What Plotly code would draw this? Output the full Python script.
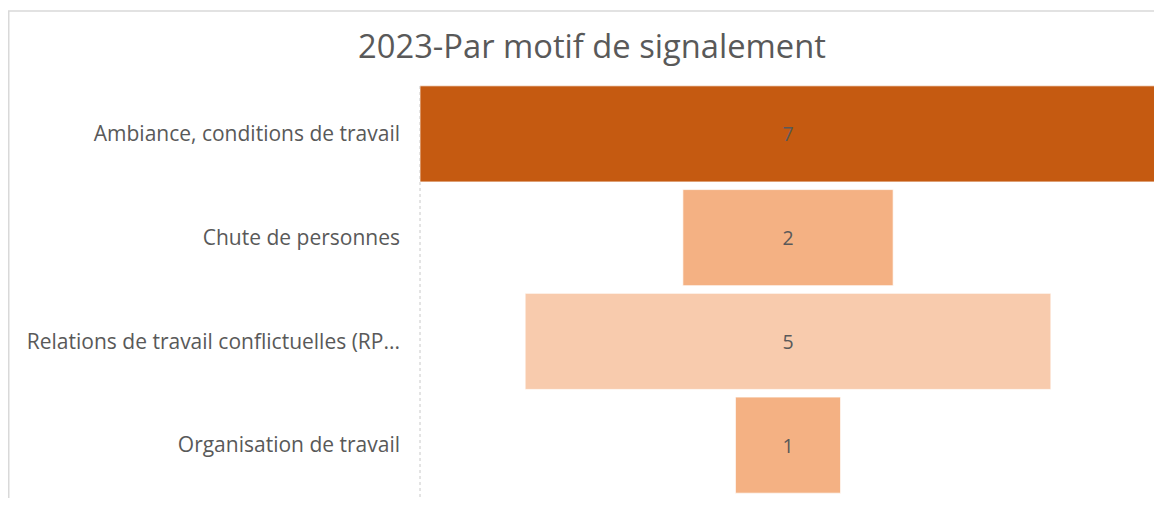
import plotly.graph_objects as go

categories = [
    "Ambiance, conditions de travail",
    "Chute de personnes",
    "Relations de travail conflictuelles (RP...",
    "Organisation de travail",
]
values = [7, 2, 5, 1]
bar_colors = ["#C55A11", "#F4B183", "#F8CBAD", "#F4B183"]
title_text = "2023-Par motif de signalement"

# page body has an 8px margin; figure coordinates = page coordinates - 8
OFF = 8
W, H = 1162 - OFF, 506 - 2 * OFF
L = 420 - OFF
R = W - (1156 - OFF)
T = 82 - OFF
B = H - (497 - OFF)
pw, ph = W - L - R, H - T - B


def px_x(p):
    return (p - OFF - L) / pw


def px_y(p):
    return (H - B - (p - OFF)) / ph


fig = go.Figure(
    go.Funnel(
        y=categories,
        x=values,
        orientation="h",
        marker=dict(color=bar_colors, line=dict(color="rgba(255,255,255,0.7)", width=1)),
        connector=dict(visible=False),
        textinfo="value",
        textposition="inside",
        insidetextanchor="middle",
        textfont=dict(family="Open Sans, sans-serif", size=19.5, color="#595959"),
        hoverinfo="y+x",
    )
)

fig.update_layout(
    width=W,
    height=H,
    margin=dict(l=L, r=R, t=T, b=B, pad=0),
    paper_bgcolor="white",
    plot_bgcolor="white",
    showlegend=False,
    funnelgap=0.074,
    font=dict(family="Open Sans, sans-serif", color="#595959"),
    title=dict(
        text=title_text,
        x=(592 - OFF) / W,
        xref="container",
        xanchor="center",
        y=1 - (47 - OFF) / H,
        yref="container",
        yanchor="middle",
        font=dict(family="Open Sans, sans-serif", size=32.7, color="#595959"),
    ),
    xaxis=dict(visible=False, range=[-3.5, 3.5], fixedrange=True),
    yaxis=dict(
        showgrid=False,
        zeroline=False,
        showline=False,
        ticks="",
        ticklabelstandoff=19,
        tickfont=dict(family="Open Sans, sans-serif", size=21, color="#595959"),
    ),
    shapes=[
        dict(
            type="line", xref="paper", yref="paper",
            x0=0, x1=0, y0=px_y(497), y1=px_y(85),
            line=dict(color="#C8C8C8", width=1, dash="dot"),
            layer="below",
        ),
        dict(
            type="rect", xref="paper", yref="paper",
            x0=px_x(8.75), x1=px_x(1200), y0=px_y(560), y1=px_y(11),
            line=dict(color="#D9D9D9", width=1.5),
            fillcolor="rgba(0,0,0,0)",
            layer="below",
        ),
    ],
)

fig.write_html("out.html")
